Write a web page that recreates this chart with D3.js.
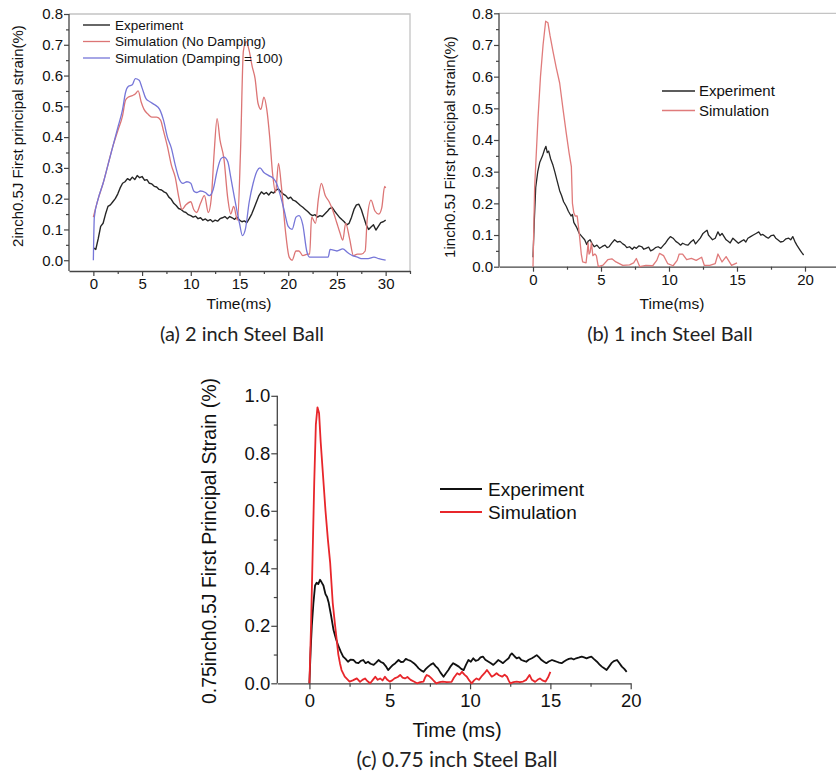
<!DOCTYPE html>
<html>
<head>
<meta charset="utf-8">
<script src="https://cdn.jsdelivr.net/npm/d3@7"></script>
<style>
body{margin:0;background:#fff;}
svg{display:block;}
text{font-family:"Liberation Sans",Arial,sans-serif;fill:#111;}
.cap{font-family:Lato,"Open Sans",sans-serif;fill:#222;}
</style>
</head>
<body>
<svg id="fig" width="836" height="773"></svg>
<script>
// ---- (a) 2 inch steel ball ----
var expA_dt = 0.25; // ms between samples
var expA = [
  0.04, 0.035, 0.07, 0.11,
  0.12, 0.15, 0.175, 0.18,
  0.19, 0.2, 0.215, 0.235,
  0.25, 0.255, 0.265, 0.26,
  0.27, 0.262, 0.275, 0.268,
  0.272, 0.26, 0.262, 0.25,
  0.248, 0.24, 0.238, 0.23,
  0.228, 0.222, 0.218, 0.205,
  0.198, 0.185, 0.178, 0.168,
  0.165, 0.158, 0.155, 0.148,
  0.145, 0.14, 0.143, 0.135,
  0.138, 0.13, 0.134, 0.128,
  0.132, 0.125, 0.13, 0.127,
  0.135, 0.138, 0.142, 0.135,
  0.142, 0.138, 0.133, 0.14,
  0.13, 0.125, 0.128, 0.122,
  0.135, 0.15, 0.17, 0.19,
  0.21, 0.222, 0.215, 0.22,
  0.212, 0.222, 0.218, 0.228,
  0.232, 0.222, 0.215, 0.21,
  0.2, 0.205, 0.195, 0.192,
  0.185, 0.178, 0.172, 0.165,
  0.158, 0.15, 0.145, 0.148,
  0.14, 0.145, 0.142, 0.15,
  0.158, 0.168, 0.172, 0.16,
  0.15, 0.14, 0.132, 0.125,
  0.115, 0.12, 0.14, 0.165,
  0.18, 0.182, 0.165, 0.14,
  0.115, 0.1, 0.108, 0.115,
  0.098, 0.11, 0.122, 0.125,
  0.13
];
var noDampA = [[0,0.14],[0.5,0.2],[1,0.25],[1.5,0.31],[2,0.37],[2.5,0.42],[3,0.47],[3.3,0.52],[3.6,0.53],[4,0.535],[4.3,0.54],[4.6,0.55],[4.9,0.515],[5.2,0.49],[5.6,0.475],[6,0.465],[6.5,0.465],[6.9,0.455],[7.2,0.42],[7.6,0.37],[8,0.31],[8.4,0.27],[8.8,0.2],[9.1,0.165],[9.5,0.18],[10,0.19],[10.3,0.165],[10.6,0.155],[11,0.185],[11.4,0.21],[11.8,0.155],[12.1,0.2],[12.4,0.35],[12.7,0.46],[13,0.39],[13.4,0.33],[13.8,0.2],[14.1,0.15],[14.4,0.175],[14.8,0.13],[15.1,0.35],[15.4,0.68],[15.7,0.71],[16,0.68],[16.3,0.63],[16.6,0.59],[16.9,0.51],[17.2,0.49],[17.5,0.53],[17.8,0.49],[18.1,0.4],[18.4,0.28],[18.7,0.22],[19,0.315],[19.3,0.24],[19.7,0.1],[20.1,0.01],[20.4,0.0],[20.8,0.03],[21.1,0.03],[21.5,0.015],[22,0.02],[22.2,0.02],[22.4,0.14],[22.8,0.12],[23.1,0.2],[23.4,0.25],[23.8,0.21],[24.2,0.19],[24.6,0.16],[25,0.12],[25.3,0.09],[25.6,0.065],[25.9,0.12],[26.3,0.07],[26.7,0.015],[27.1,0.02],[27.5,0.02],[27.9,0.03],[28.1,0.13],[28.5,0.195],[28.9,0.16],[29.3,0.15],[29.6,0.17],[29.9,0.24],[30,0.235]];
var dampA = [[0,0.0],[0.1,0.14],[0.5,0.2],[1,0.25],[1.5,0.31],[2,0.37],[2.5,0.43],[3,0.49],[3.3,0.545],[3.6,0.565],[4,0.57],[4.3,0.59],[4.7,0.585],[5,0.56],[5.4,0.525],[5.8,0.515],[6.3,0.505],[6.8,0.49],[7.2,0.455],[7.6,0.4],[8,0.365],[8.4,0.31],[8.8,0.265],[9.2,0.25],[9.6,0.255],[10,0.25],[10.3,0.225],[10.6,0.22],[11,0.225],[11.5,0.22],[11.9,0.21],[12.3,0.23],[12.7,0.29],[13.1,0.33],[13.4,0.335],[13.8,0.32],[14.1,0.27],[14.5,0.2],[15,0.12],[15.3,0.08],[15.6,0.1],[16,0.19],[16.4,0.25],[16.8,0.29],[17.1,0.3],[17.5,0.285],[18,0.275],[18.5,0.265],[18.8,0.25],[19.2,0.21],[19.6,0.16],[20,0.11],[20.4,0.1],[20.8,0.14],[21.1,0.145],[21.5,0.115],[21.9,0.03],[22.2,0.01],[23,0.01],[23.8,0.01],[24.1,0.01],[24.3,0.035],[25,0.03],[25.6,0.037],[26.1,0.025],[26.6,0.015],[27.1,0.01],[27.6,0.005],[28.2,0.005],[28.8,0.01],[29.3,0.005],[30,0.0]];

// ---- (b) 1 inch steel ball ----
var expB = [[0,0.03],[0.1,0.15],[0.2,0.25],[0.35,0.3],[0.5,0.33],[0.7,0.35],[0.85,0.37],[0.95,0.38],[1.05,0.36],[1.15,0.365],[1.3,0.34],[1.47,0.32],[1.6,0.3],[1.75,0.275],[1.96,0.24],[2.1,0.225],[2.25,0.205],[2.45,0.19],[2.6,0.175],[2.8,0.16],[2.9,0.165],[3.0,0.14],[3.2,0.125],[3.4,0.105],[3.6,0.095],[3.8,0.085],[3.95,0.07],[4.05,0.08],[4.2,0.085],[4.35,0.072],[4.5,0.063],[4.7,0.068],[4.9,0.058],[5.1,0.064],[5.3,0.068],[5.45,0.06],[5.6,0.063],[5.8,0.075],[6.0,0.085],[6.2,0.078],[6.4,0.08],[6.6,0.072],[6.75,0.068],[6.9,0.06],[7.1,0.063],[7.3,0.055],[7.45,0.062],[7.6,0.058],[7.8,0.066],[8.0,0.063],[8.15,0.055],[8.3,0.058],[8.5,0.062],[8.65,0.05],[8.8,0.053],[9.0,0.06],[9.2,0.063],[9.4,0.058],[9.6,0.068],[9.75,0.075],[9.9,0.085],[10.1,0.095],[10.3,0.09],[10.5,0.08],[10.7,0.074],[10.85,0.068],[11.0,0.074],[11.2,0.07],[11.4,0.068],[11.6,0.078],[11.8,0.085],[11.95,0.072],[12.1,0.08],[12.3,0.09],[12.5,0.105],[12.65,0.11],[12.8,0.115],[12.9,0.1],[13.0,0.095],[13.2,0.085],[13.4,0.09],[13.6,0.11],[13.75,0.098],[13.9,0.105],[14.05,0.095],[14.2,0.085],[14.35,0.08],[14.5,0.075],[14.7,0.09],[14.9,0.082],[15.1,0.074],[15.3,0.08],[15.5,0.085],[15.65,0.078],[15.8,0.09],[16.0,0.095],[16.2,0.1],[16.4,0.105],[16.6,0.11],[16.75,0.1],[16.9,0.102],[17.1,0.095],[17.3,0.09],[17.5,0.098],[17.7,0.1],[17.85,0.09],[18.0,0.085],[18.2,0.078],[18.4,0.08],[18.6,0.088],[18.8,0.09],[18.95,0.085],[19.1,0.095],[19.25,0.08],[19.4,0.068],[19.6,0.055],[19.75,0.045],[19.9,0.037]];
var simB = [[0,0],[0.12,0.25],[0.37,0.47],[0.55,0.6],[0.74,0.7],[0.93,0.775],[1.1,0.77],[1.25,0.73],[1.47,0.68],[1.7,0.63],[1.96,0.58],[2.2,0.5],[2.45,0.42],[2.65,0.36],[2.82,0.316],[2.9,0.2],[3.0,0.17],[3.1,0.16],[3.25,0.16],[3.4,0.105],[3.55,0.04],[3.65,0.015],[3.9,0.012],[4.0,0.05],[4.05,0.075],[4.12,0.04],[4.2,0.045],[4.3,0.075],[4.4,0.035],[4.55,0.04],[4.66,0.035],[4.8,0.0],[5.15,0.005],[5.5,0.022],[5.8,0.025],[6.1,0.015],[6.6,0.004],[7.1,0.006],[7.4,0.012],[7.6,0.026],[7.85,0.0],[8.3,0.004],[8.8,0.003],[9.1,0.02],[9.3,0.042],[9.6,0.035],[9.9,0.01],[10.3,0.003],[10.6,0.02],[10.75,0.04],[11.0,0.04],[11.3,0.022],[11.65,0.026],[12.0,0.02],[12.4,0.03],[12.6,0.004],[13.0,0.004],[13.4,0.01],[13.6,0.04],[13.9,0.015],[14.2,0.032],[14.6,0.004],[15.0,0.012]];

// ---- (c) 0.75 inch steel ball ----
var expC = [[0,0],[0.08,0.12],[0.15,0.2],[0.25,0.28],[0.35,0.34],[0.45,0.35],[0.55,0.345],[0.66,0.36],[0.75,0.352],[0.87,0.34],[1.0,0.31],[1.1,0.3],[1.2,0.28],[1.35,0.235],[1.5,0.185],[1.65,0.155],[1.8,0.13],[1.95,0.11],[2.1,0.093],[2.25,0.085],[2.4,0.075],[2.55,0.082],[2.75,0.081],[2.9,0.072],[3.05,0.07],[3.2,0.078],[3.35,0.081],[3.5,0.07],[3.65,0.075],[3.8,0.068],[4.0,0.064],[4.15,0.072],[4.3,0.081],[4.45,0.074],[4.6,0.07],[4.75,0.06],[4.9,0.046],[5.05,0.055],[5.2,0.064],[5.35,0.07],[5.55,0.081],[5.7,0.074],[5.85,0.075],[6.0,0.085],[6.15,0.081],[6.3,0.078],[6.5,0.07],[6.65,0.062],[6.8,0.052],[6.95,0.045],[7.1,0.04],[7.25,0.05],[7.4,0.058],[7.55,0.065],[7.7,0.07],[7.85,0.06],[8.0,0.052],[8.15,0.038],[8.35,0.023],[8.5,0.035],[8.65,0.046],[8.8,0.06],[8.95,0.07],[9.1,0.065],[9.3,0.058],[9.45,0.05],[9.6,0.046],[9.75,0.065],[9.9,0.081],[10.05,0.075],[10.2,0.087],[10.35,0.078],[10.5,0.081],[10.65,0.09],[10.8,0.093],[10.95,0.082],[11.15,0.075],[11.3,0.07],[11.45,0.064],[11.6,0.072],[11.75,0.081],[11.9,0.076],[12.05,0.07],[12.2,0.078],[12.4,0.087],[12.5,0.098],[12.6,0.104],[12.75,0.095],[12.9,0.087],[13.05,0.09],[13.2,0.081],[13.35,0.078],[13.5,0.075],[13.65,0.082],[13.85,0.087],[14.0,0.092],[14.15,0.098],[14.3,0.09],[14.45,0.081],[14.6,0.075],[14.75,0.07],[14.9,0.076],[15.1,0.081],[15.25,0.078],[15.4,0.075],[15.55,0.072],[15.7,0.07],[15.85,0.076],[16.0,0.081],[16.15,0.085],[16.3,0.087],[16.45,0.083],[16.6,0.087],[16.8,0.09],[16.95,0.093],[17.1,0.09],[17.25,0.087],[17.4,0.09],[17.55,0.093],[17.7,0.085],[17.9,0.075],[18.05,0.066],[18.2,0.058],[18.35,0.052],[18.5,0.046],[18.65,0.058],[18.8,0.07],[18.95,0.077],[19.15,0.081],[19.3,0.07],[19.45,0.058],[19.6,0.05],[19.75,0.04]];
var simC = [[0,0],[0.1,0.2],[0.2,0.45],[0.3,0.7],[0.4,0.9],[0.5,0.96],[0.6,0.94],[0.7,0.84],[0.85,0.72],[1.0,0.6],[1.15,0.5],[1.29,0.42],[1.45,0.28],[1.6,0.2],[1.7,0.15],[1.8,0.1],[1.9,0.07],[2.0,0.046],[2.2,0.023],[2.5,0.006],[2.7,0.01],[2.95,0.017],[3.15,0.005],[3.3,0.012],[3.46,0.017],[3.6,0.008],[3.78,0],[3.95,0.012],[4.1,0.023],[4.25,0.012],[4.4,0.017],[4.55,0.01],[4.7,0.023],[4.85,0.012],[5.0,0.006],[5.15,0.01],[5.3,0.017],[5.5,0.022],[5.65,0.029],[5.8,0.02],[5.95,0.017],[6.1,0.022],[6.3,0.012],[6.5,0.006],[6.7,0],[6.9,0.004],[7.1,0.006],[7.2,0.02],[7.3,0.029],[7.45,0.025],[7.6,0.017],[7.75,0.008],[7.9,0],[8.1,0.004],[8.3,0.006],[8.55,0.004],[8.85,0.005],[9.0,0.02],[9.2,0.035],[9.35,0.03],[9.5,0.04],[9.65,0.03],[9.8,0.023],[9.95,0.01],[10.1,0],[10.25,0.01],[10.4,0.017],[10.55,0.012],[10.7,0.023],[10.9,0.035],[11.05,0.046],[11.2,0.035],[11.35,0.023],[11.5,0.028],[11.65,0.035],[11.8,0.028],[12.0,0.023],[12.15,0.03],[12.3,0.023],[12.4,0.01],[12.5,0],[12.7,0.004],[12.9,0.006],[13.1,0.004],[13.3,0.006],[13.5,0.012],[13.7,0.029],[13.85,0.012],[14.05,0.005],[14.2,0.012],[14.35,0.017],[14.5,0.01],[14.7,0.006],[14.85,0.02],[15.0,0.04]];

// tick labels and legend texts
var yTicksA = [0, 0.1, 0.2, 0.3, 0.4, 0.5, 0.6, 0.7, 0.8];
var xTicksA = [0, 5, 10, 15, 20, 25, 30];
var yTicksB = [0, 0.1, 0.2, 0.3, 0.4, 0.5, 0.6, 0.7, 0.8];
var xTicksB = [0, 5, 10, 15, 20];
var yTicksC = [0, 0.2, 0.4, 0.6, 0.8, 1.0];
var xTicksC = [0, 5, 10, 15, 20];
var legendA = ["Experiment", "Simulation (No Damping)", "Simulation (Damping = 100)"];
var legendB = ["Experiment", "Simulation"];
var legendC = ["Experiment", "Simulation"];

var svg = d3.select("#fig");

function panel(p) {
  var g = svg.append("g");
  var x = d3.scaleLinear().domain(p.xDom).range([p.left, p.right]);
  var y = d3.scaleLinear().domain(p.yDom).range([p.bottom, p.top]);

  // light frame on top / right (Origin style)
  if (p.frame) {
    g.append("path")
      .attr("d", "M" + p.left + "," + p.top + "H" + p.right + "V" + p.bottom)
      .attr("fill", "none").attr("stroke", "#c4c4c4").attr("stroke-width", 1.3);
  }

  // minor ticks
  g.append("g").attr("transform", "translate(0," + p.bottom + ")")
    .call(d3.axisBottom(x).tickValues(p.xMinor).tickFormat("").tickSize(p.minor).tickSizeOuter(0))
    .call(a => a.select(".domain").remove());
  g.append("g").attr("transform", "translate(" + p.left + ",0)")
    .call(d3.axisLeft(y).tickValues(p.yMinor).tickFormat("").tickSize(p.minor).tickSizeOuter(0))
    .call(a => a.select(".domain").remove());

  // major axes
  var xa = g.append("g").attr("transform", "translate(0," + p.bottom + ")")
    .call(d3.axisBottom(x).tickValues(p.xTicks).tickFormat(d3.format("d"))
      .tickSize(p.major).tickSizeOuter(0).tickPadding(p.xPad));
  var ya = g.append("g").attr("transform", "translate(" + p.left + ",0)")
    .call(d3.axisLeft(y).tickValues(p.yTicks).tickFormat(d3.format(".1f"))
      .tickSize(p.major).tickSizeOuter(0).tickPadding(p.yPad));
  [xa, ya].forEach(function(a) {
    a.selectAll("text").attr("font-size", p.fs).attr("font-family", null).attr("fill", "#111");
  });
  g.selectAll(".domain").attr("stroke", "#444").attr("stroke-width", 1.3);
  g.selectAll(".tick line").attr("stroke", "#444").attr("stroke-width", 1.2);
  ya.select(".domain").attr("d", "M0," + p.bottom + "V" + p.top);

  // series
  p.series.forEach(function(s) {
    var line = d3.line().x(d => x(d[0])).y(d => y(d[1])).curve(s.curve || d3.curveLinear);
    g.append("path").datum(s.data)
      .attr("d", line)
      .attr("fill", "none")
      .attr("stroke", s.color)
      .attr("stroke-width", s.width)
      .attr("stroke-linejoin", "round");
  });

  // legend
  var lg = g.append("g");
  p.legend.forEach(function(name, i) {
    var yy = p.leg.y + i * p.leg.dy;
    lg.append("line").attr("x1", p.leg.x).attr("x2", p.leg.x + p.leg.len)
      .attr("y1", yy).attr("y2", yy)
      .attr("stroke", p.series[i].color).attr("stroke-width", p.series[i].width);
    lg.append("text").attr("x", p.leg.x + p.leg.len + p.leg.gap).attr("y", yy).attr("dy", "0.35em")
      .attr("font-size", p.leg.fs).text(name);
  });

  // axis titles
  g.append("text")
    .attr("transform", "translate(" + p.yLab.x + "," + p.yLab.y + ") rotate(-90)")
    .attr("text-anchor", "middle").attr("dy", "0.35em")
    .attr("font-size", p.yLab.fs).text(p.yLab.text);
  g.append("text")
    .attr("x", p.xLab.x).attr("y", p.xLab.y)
    .attr("text-anchor", "middle")
    .attr("font-size", p.xLab.fs).text(p.xLab.text);
  g.append("text").attr("class", "cap")
    .attr("x", p.cap.x).attr("y", p.cap.y)
    .attr("text-anchor", "middle")
    .attr("font-size", p.cap.fs).text(p.cap.text);
}

panel({
  left: 69, right: 410, top: 14, bottom: 271,
  xDom: [-2.5, 32.5], yDom: [-0.035, 0.8],
  xTicks: xTicksA, yTicks: yTicksA,
  xMinor: d3.range(2.5, 33, 5), yMinor: d3.range(0.05, 0.8, 0.1),
  major: 5, minor: 3, xPad: 2, yPad: 1, fs: 15, frame: true,
  series: [
    {data: expA.map((v, i) => [i * expA_dt, v]), color: "#262626", width: 1.4},
    {data: noDampA, color: "#dc7575", width: 1.3, curve: d3.curveMonotoneX},
    {data: dampA, color: "#7676d8", width: 1.3, curve: d3.curveMonotoneX}
  ],
  legend: legendA,
  leg: {x: 83, y: 25, dy: 16.5, len: 27, gap: 5, fs: 13.5},
  yLab: {x: 18, y: 136, fs: 15, text: "2inch0.5J First principal strain(%)"},
  xLab: {x: 239, y: 309, fs: 15.5, text: "Time(ms)"},
  cap: {x: 242, y: 341, fs: 20, text: "(a) 2 inch Steel Ball"}
});

panel({
  left: 499, right: 839, top: 13.3, bottom: 266.7,
  xDom: [-2.5, 22.5], yDom: [0, 0.8],
  xTicks: xTicksB, yTicks: yTicksB,
  xMinor: d3.range(2.5, 23, 5), yMinor: d3.range(0.05, 0.8, 0.1),
  major: 5, minor: 3, xPad: 3, yPad: 1, fs: 15, frame: true,
  series: [
    {data: expB, color: "#262626", width: 1.3},
    {data: simB, color: "#e07b7b", width: 1.3}
  ],
  legend: legendB,
  leg: {x: 662, y: 91, dy: 19.5, len: 33, gap: 4, fs: 15},
  yLab: {x: 450, y: 147, fs: 15, text: "1inch0.5J First principal strain(%)"},
  xLab: {x: 672, y: 309, fs: 15.5, text: "Time(ms)"},
  cap: {x: 670, y: 341, fs: 20, text: "(b) 1 inch Steel Ball"}
});

panel({
  left: 277.3, right: 630.7, top: 395.8, bottom: 683.3,
  xDom: [-2, 20], yDom: [0, 1.0],
  xTicks: xTicksC, yTicks: yTicksC,
  xMinor: d3.range(2.5, 20, 5), yMinor: d3.range(0.1, 1.0, 0.2),
  major: 6, minor: 3.5, xPad: 5, yPad: 1, fs: 18.5, frame: false,
  series: [
    {data: expC, color: "#111111", width: 1.8},
    {data: simC, color: "#e8262b", width: 1.8}
  ],
  legend: legendC,
  leg: {x: 440, y: 489, dy: 23, len: 42, gap: 6, fs: 19},
  yLab: {x: 209, y: 541, fs: 19.5, text: "0.75inch0.5J First Principal Strain (%)"},
  xLab: {x: 457, y: 737, fs: 20, text: "Time (ms)"},
  cap: {x: 457, y: 767, fs: 21, text: "(c) 0.75 inch Steel Ball"}
});
</script>
</body>
</html>
